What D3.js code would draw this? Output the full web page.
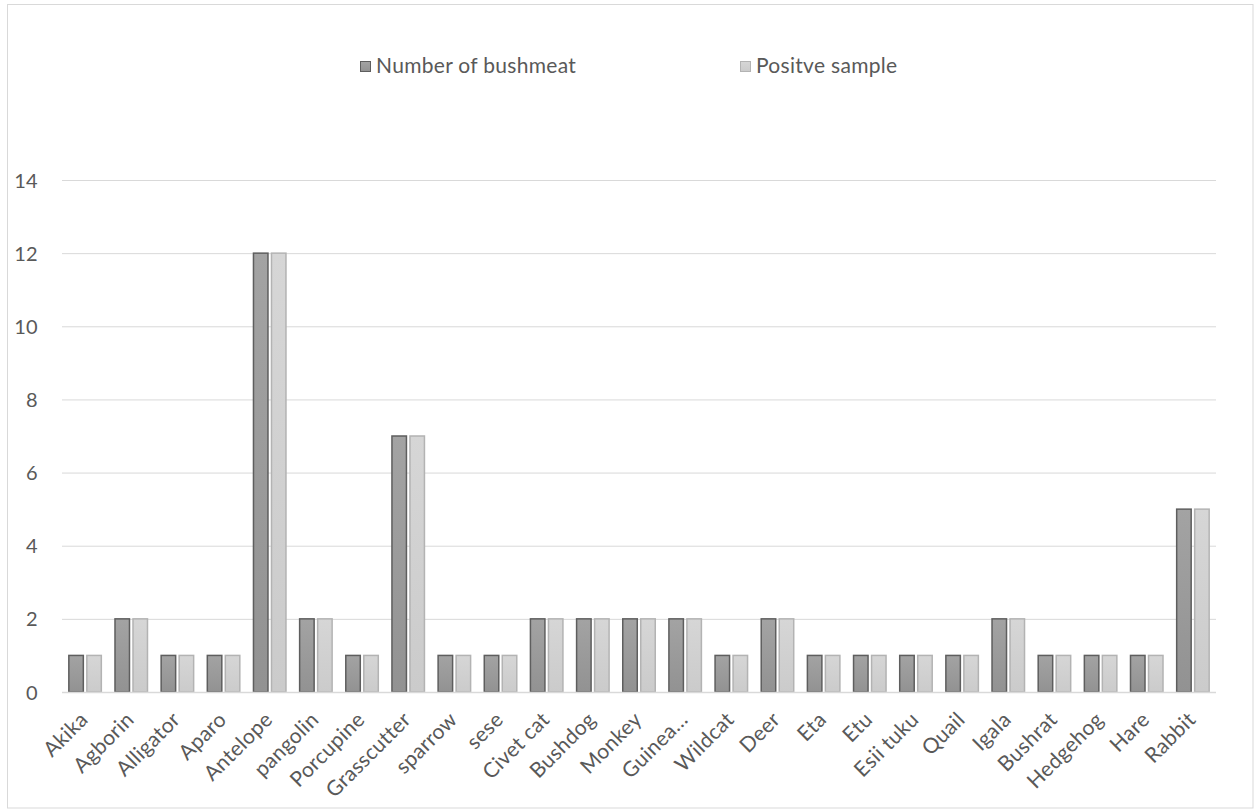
<!DOCTYPE html>
<html><head><meta charset="utf-8">
<script src="https://cdn.jsdelivr.net/npm/d3@7"></script>
<style>body{margin:0;background:#fff;}svg{display:block;font-family:Lato,"Open Sans",sans-serif;}</style>
</head><body><svg id="c" width="1255" height="811"></svg>
<script>
const categories = ["Akika","Agborin","Alligator","Aparo","Antelope","pangolin","Porcupine","Grasscutter","sparrow","sese","Civet cat","Bushdog","Monkey","Guinea…","Wildcat","Deer","Eta","Etu","Esii tuku","Quail","Igala","Bushrat","Hedgehog","Hare","Rabbit"];
const numberOfBushmeat = [1,2,1,1,12,2,1,7,1,1,2,2,2,2,1,2,1,1,1,1,2,1,1,1,5];
const positiveSample   = [1,2,1,1,12,2,1,7,1,1,2,2,2,2,1,2,1,1,1,1,2,1,1,1,5];
const seriesNames = ["Number of bushmeat","Positve sample"];
const yTicks = [0,2,4,6,8,10,12,14];

const svg = d3.select("#c");
const plot = {l:62,r:1216,t:180,b:692};
const FS = "21px", LS = "0.3px";
svg.append("rect").attr("x",7.5).attr("y",4.5).attr("width",1245.5).attr("height",803.5).attr("fill","#fff").attr("stroke","#d9d9d9");

const defs = svg.append("defs");
const g1 = defs.append("linearGradient").attr("id","gd").attr("x1",0).attr("y1",0).attr("x2",0).attr("y2",1);
g1.append("stop").attr("offset","0%").attr("stop-color","#a3a3a3");
g1.append("stop").attr("offset","100%").attr("stop-color","#929292");
const g2 = defs.append("linearGradient").attr("id","gl").attr("x1",0).attr("y1",0).attr("x2",0).attr("y2",1);
g2.append("stop").attr("offset","0%").attr("stop-color","#d6d6d6");
g2.append("stop").attr("offset","100%").attr("stop-color","#cbcbcb");

const x = d3.scaleBand().domain(categories).range([plot.l,plot.r]);
const y = d3.scaleLinear().domain([0,14]).range([plot.b,plot.t]);

svg.append("g").selectAll("line").data(yTicks.filter(d=>d>0)).join("line")
 .attr("x1",plot.l).attr("x2",plot.r).attr("y1",d=>y(d)+0.5).attr("y2",d=>y(d)+0.5)
 .attr("stroke","#d9d9d9").attr("stroke-width",1);

const yAxis = d3.axisLeft(y).tickValues(yTicks).tickSize(0).tickPadding(0);
const ya = svg.append("g").attr("transform",`translate(38,0)`).call(yAxis);
ya.select(".domain").remove();
ya.selectAll("text").attr("fill","#595959").style("font-size","20px").style("letter-spacing",LS).attr("font-family","Lato,sans-serif").attr("dy","0.35em");

const bw = 16, gap = 2;
const series = [
 {vals:numberOfBushmeat, fill:"url(#gd)", stroke:"#5e5e5e", off:-bw-gap/2},
 {vals:positiveSample, fill:"url(#gl)", stroke:"#b3b3b3", off:gap/2}
];
series.forEach(s=>{
  svg.append("g").selectAll("rect").data(categories).join("rect")
   .attr("x",(d)=>x(d)+x.bandwidth()/2+s.off+0.75)
   .attr("width",bw-1.5)
   .attr("y",(d,i)=>y(s.vals[i]))
   .attr("height",(d,i)=>y(0)-y(s.vals[i]))
   .attr("fill",s.fill).attr("stroke",s.stroke).attr("stroke-width",1.5);
});

svg.append("line").attr("x1",plot.l).attr("x2",plot.r).attr("y1",y(0)+0.5).attr("y2",y(0)+0.5).attr("stroke","#d9d9d9").attr("stroke-width",1.5);

const xAxis = d3.axisBottom(x).tickSize(0).tickPadding(0);
const xa = svg.append("g").attr("transform",`translate(0,${y(0)})`).call(xAxis);
xa.select(".domain").remove();
xa.selectAll("text").attr("fill","#595959").style("font-size",FS).style("letter-spacing",LS).attr("font-family","Lato,sans-serif")
 .attr("text-anchor","end").attr("dy",0).attr("y",0)
 .attr("transform","translate(4,29) rotate(-45)");

const leg = [{x:360,fill:"url(#gd)",stroke:"#5e5e5e"},{x:740,fill:"url(#gl)",stroke:"#b3b3b3"}];
leg.forEach((l,i)=>{
  svg.append("rect").attr("x",l.x+0.5).attr("y",61.5).attr("width",10).attr("height",10).attr("fill",l.fill).attr("stroke",l.stroke);
  svg.append("text").attr("x",l.x+16).attr("y",73).attr("fill","#595959").style("font-size",FS).style("letter-spacing",LS).text(seriesNames[i]);
});
</script></body></html>
